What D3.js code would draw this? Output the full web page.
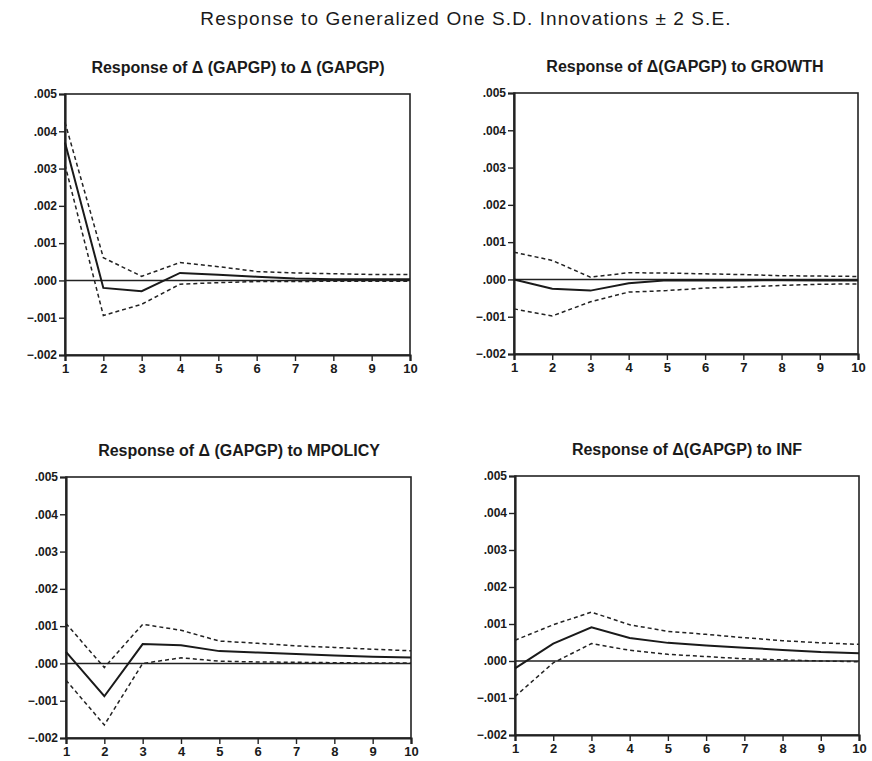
<!DOCTYPE html>
<html>
<head>
<meta charset="utf-8">
<script src="https://cdn.jsdelivr.net/npm/d3@7"></script>
<style>
  body { margin: 0; background: #fff; }
  svg text { font-family: "Liberation Sans", Arial, sans-serif; fill: #1a1a1a; }
</style>
</head>
<body>
<div id="chart"></div>
<script>
const periods = [1, 2, 3, 4, 5, 6, 7, 8, 9, 10];
const yTicks = [0.005, 0.004, 0.003, 0.002, 0.001, 0, -0.001, -0.002];

// response of d(GAPGP) to d(GAPGP)
const gapResp = [0.0037, -0.0002, -0.00029, 0.0002, 0.00015, 0.0001, 0.00005, 0.00003, 0.00003, 0.00003];
const gapUpper = [0.00424, 0.00061, 0.00011, 0.00048, 0.00037, 0.00024, 0.0002, 0.00018, 0.00016, 0.00016];
const gapLower = [0.0031, -0.00094, -0.00064, -0.0001, -0.00006, -0.00003, -0.00003, -0.00002, -0.00002, -0.00002];

// response to GROWTH
const growthResp = [0, -0.00025, -0.0003, -0.0001, -0.00002, -0.00003, -0.00003, -0.00002, -0.00003, -0.00003];
const growthUpper = [0.00073, 0.00051, 0.00006, 0.00018, 0.00017, 0.00015, 0.00013, 0.0001, 0.00009, 0.00008];
const growthLower = [-0.00079, -0.00098, -0.0006, -0.00034, -0.0003, -0.00023, -0.0002, -0.00016, -0.00013, -0.00012];

// response to MPOLICY
const mpolResp = [0.00031, -0.00088, 0.00052, 0.00049, 0.00033, 0.00029, 0.00025, 0.00021, 0.00018, 0.00016];
const mpolUpper = [0.00107, -0.00011, 0.00105, 0.00089, 0.0006, 0.00054, 0.00047, 0.00043, 0.00038, 0.00034];
const mpolLower = [-0.00045, -0.00165, 0.0, 0.00015, 0.00006, 0.00004, 0.00003, 0.00002, 0.00001, 0.00001];

// response to INF
const infResp = [-0.0002, 0.00047, 0.00091, 0.00062, 0.00049, 0.00042, 0.00036, 0.0003, 0.00024, 0.00021];
const infUpper = [0.00056, 0.00098, 0.00132, 0.00098, 0.0008, 0.00072, 0.00063, 0.00055, 0.00049, 0.00045];
const infLower = [-0.00096, -0.00005, 0.00047, 0.00029, 0.00018, 0.00012, 0.00006, 0.00003, 0, -0.00002];

const panelTitles = [
    "Response of \u0394 (GAPGP) to \u0394 (GAPGP)",
    "Response of \u0394(GAPGP) to GROWTH",
    "Response of \u0394 (GAPGP) to MPOLICY",
    "Response of \u0394(GAPGP) to INF"
];
const mainTitle = "Response to Generalized One S.D. Innovations \u00b1 2 S.E.";

const W = 872, H = 761;
const svg = d3.select("#chart").append("svg").attr("width", W).attr("height", H);

svg.append("text")
    .attr("x", 466).attr("y", 25)
    .attr("text-anchor", "middle")
    .style("font-size", "19px")
    .style("letter-spacing", "1.1px")
    .text(mainTitle);

// panel boxes: left, right, top, bottom, title center and baseline
const panels = [
    {l: 65, r: 410, t: 94, b: 355, tx: 238, ty: 73, resp: gapResp, up: gapUpper, lo: gapLower},
    {l: 514, r: 858, t: 93, b: 354, tx: 685, ty: 72, resp: growthResp, up: growthUpper, lo: growthLower},
    {l: 66, r: 411, t: 477, b: 738, tx: 239, ty: 456, resp: mpolResp, up: mpolUpper, lo: mpolLower},
    {l: 515, r: 859, t: 476, b: 735, tx: 687, ty: 455, resp: infResp, up: infUpper, lo: infLower}
];

const fmt = v => {
    const s = d3.format(".3f")(v);
    return s.replace("0.", ".").replace("-", "\u2013");
};

panels.forEach((p, i) => {
    const x = d3.scaleLinear().domain([1, 10]).range([p.l, p.r]);
    const y = d3.scaleLinear().domain([-0.002, 0.005]).range([p.b, p.t]);
    const g = svg.append("g");

    g.append("text")
        .attr("x", p.tx).attr("y", p.ty)
        .attr("text-anchor", "middle")
        .style("font-size", "16px")
        .style("font-weight", "bold")
        .text(panelTitles[i]);

    // frame
    g.append("rect")
        .attr("x", p.l).attr("y", p.t)
        .attr("width", p.r - p.l).attr("height", p.b - p.t)
        .attr("fill", "none")
        .attr("stroke", "#222")
        .attr("stroke-width", 1.6);

    const yAxis = g.append("g")
        .attr("transform", `translate(${p.l},0)`)
        .call(d3.axisLeft(y).tickValues(yTicks).tickSize(6).tickPadding(2).tickFormat(fmt));
    const xAxis = g.append("g")
        .attr("transform", `translate(0,${p.b})`)
        .call(d3.axisBottom(x).tickValues(periods).tickSize(6).tickPadding(3).tickFormat(d3.format("d")));

    [yAxis, xAxis].forEach(a => {
        a.select(".domain").attr("stroke", "#222").attr("stroke-width", 2.2);
        a.selectAll(".tick line").attr("stroke", "#222").attr("stroke-width", 1.4);
        a.selectAll("text").style("font-weight", "bold").attr("fill", "#1a1a1a");
    });
    yAxis.selectAll("text").style("font-size", "12px");
    xAxis.selectAll("text").style("font-size", "13px");

    // zero line
    g.append("line")
        .attr("x1", x(1)).attr("x2", x(10))
        .attr("y1", y(0)).attr("y2", y(0))
        .attr("stroke", "#222").attr("stroke-width", 1.6);

    const line = d3.line().x((d, j) => x(periods[j])).y(d => y(d));

    [p.up, p.lo].forEach(s => {
        g.append("path")
            .attr("d", line(s))
            .attr("fill", "none")
            .attr("stroke", "#222")
            .attr("stroke-width", 1.5)
            .attr("stroke-dasharray", "4,3");
    });
    g.append("path")
        .attr("d", line(p.resp))
        .attr("fill", "none")
        .attr("stroke", "#1a1a1a")
        .attr("stroke-width", 2);
});
</script>
</body>
</html>
